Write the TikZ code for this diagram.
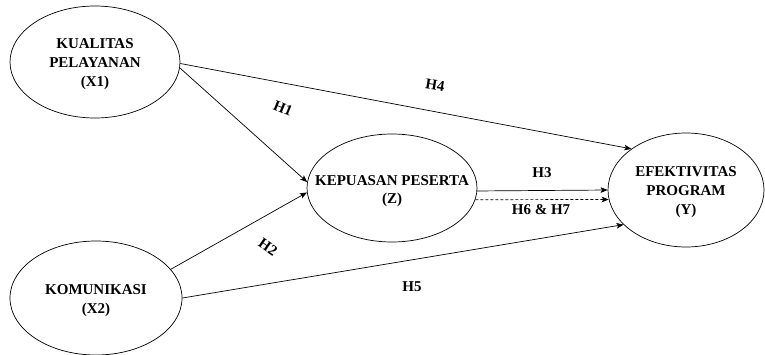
\documentclass[tikz,border=0pt]{standalone}
\usepackage{fontspec}
\setmainfont{Liberation Serif}
\usetikzlibrary{shapes.geometric,arrows.meta}
\begin{document}
\begin{tikzpicture}[x=1pt,y=-1pt,
  var/.style={ellipse,draw,line width=0.7pt,inner sep=0pt},
  vtext/.style={align=center,font=\fontsize{15}{19}\selectfont\bfseries,inner sep=0pt},
  hlab/.style={font=\fontsize{15}{16}\selectfont\bfseries,inner sep=0pt},
  arr/.style={line width=0.7pt,-{Stealth[length=7pt,width=5.5pt,inset=1.5pt]}}]
\useasboundingbox (0,0) rectangle (765,354);
\fill[white] (0,0) rectangle (765,354);
% ellipses
\node[var,minimum width=170pt,minimum height=112pt] (x1) at (95,62) {};
\node[var,minimum width=172pt,minimum height=114pt] (x2) at (96,298) {};
\node[var,minimum width=170pt,minimum height=108pt] (z) at (392,188) {};
\node[var,minimum width=156pt,minimum height=114pt] (y) at (686,190) {};
% texts
\node[vtext] (x1t) at (95,64) {KUALITAS\\PELAYANAN\\(X1)};
\node[vtext] (x2t) at (96,301) {KOMUNIKASI\\(X2)};
\node[vtext,font=\fontsize{15}{18}\selectfont\bfseries] (zt) at (392,191) {KEPUASAN PESERTA\\(Z)};
\node[vtext] (yt) at (686,192) {EFEKTIVITAS\\PROGRAM\\(Y)};
% connectors
\draw[arr] (x1.-1) -- (y.143);
\draw[arr] (x1.-4) -- (z.176.6);
\draw[arr] (x2.21) -- (z.183.4);
\draw[arr] (x2.east) -- (y.209);
\draw[arr] (z.-2) -- (y.180.5);
\draw[arr,dash pattern=on 3pt off 2pt] (z.-8) -- (y.187.3);
% labels
\node[hlab,rotate=-22] (h1) at (283,108) {H1};
\node[hlab,rotate=-9] (h4) at (435,85) {H4};
\node[hlab,rotate=-35] (h2) at (268,247) {H2};
\node[hlab] (h5) at (412,287) {H5};
\node[hlab] (h3) at (542,173) {H3};
\node[hlab] (h67) at (541,210) {H6 \& H7};
\end{tikzpicture}
\end{document}
